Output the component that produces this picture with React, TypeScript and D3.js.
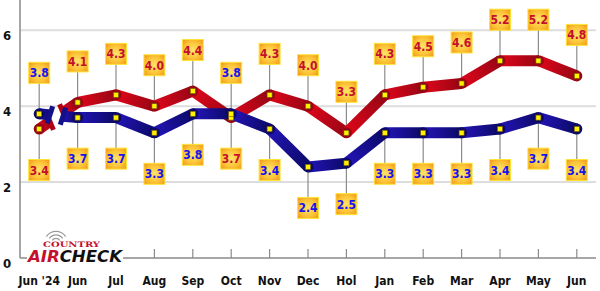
import React from 'react';
import * as d3 from 'd3';

// chart values
const months = ["Jun '24", 'Jun', 'Jul', 'Aug', 'Sep', 'Oct', 'Nov', 'Dec', 'Hol', 'Jan', 'Feb', 'Mar', 'Apr', 'May', 'Jun'];
const redValues = [3.4, 4.1, 4.3, 4.0, 4.4, 3.7, 4.3, 4.0, 3.3, 4.3, 4.5, 4.6, 5.2, 5.2, 4.8];
const blueValues = [3.8, 3.7, 3.7, 3.3, 3.8, 3.8, 3.4, 2.4, 2.5, 3.3, 3.3, 3.3, 3.4, 3.7, 3.4];
const yTicks = [0, 2, 4, 6];

const W = 600;
const H = 291;
const margin = { top: 0, right: 4, bottom: 33, left: 20 };
const FONT = "'DejaVu Sans Condensed', 'DejaVu Sans', sans-serif";

const series = [
  { key: 'red', values: redValues, light: '#e0061a', dark: '#960615', text: '#c4102c' },
  { key: 'blue', values: blueValues, light: '#2414b8', dark: '#0b0a66', text: '#1414f0' },
];

const App = () => {
  const x = d3.scalePoint<number>()
    .domain(months.map((_, i) => i))
    .range([margin.left, W - margin.right])
    .padding(0.5);

  const y = d3.scaleLinear()
    .domain([0, 6.8])
    .range([H - margin.bottom, margin.top]);

  const tube = 11;
  const labelGap = 41;
  const box = 21;

  const segs: any[] = [];
  series.forEach(s => {
    for (let i = 0; i < s.values.length - 1; i++) {
      const x1 = x(i)!, y1 = y(s.values[i]);
      const x2 = x(i + 1)!, y2 = y(s.values[i + 1]);
      if (i === 0) {
        // broken first segment
        const t1 = 0.28, t2 = 0.62;
        segs.push({ s, id: `${s.key}-${i}a`, x1, y1, x2: x1 + (x2 - x1) * t1, y2: y1 + (y2 - y1) * t1, cut: 'end' });
        segs.push({ s, id: `${s.key}-${i}b`, x1: x1 + (x2 - x1) * t2, y1: y1 + (y2 - y1) * t2, x2, y2, cut: 'start' });
      } else {
        segs.push({ s, id: `${s.key}-${i}`, x1, y1, x2, y2 });
      }
    }
  });

  const labels: any[] = [];
  months.forEach((_, i) => {
    const redUp = redValues[i] >= blueValues[i];
    series.forEach(s => {
      const v = s.values[i];
      const up = s.key === 'red' ? redUp : !redUp;
      const py = y(v);
      labels.push({ s, i, v, px: x(i)!, py, cy: up ? py - labelGap : py + labelGap });
    });
  });

  return (
    <svg width={W} height={H} style={{ position: 'absolute', left: 0, top: 0 }} fontFamily={FONT}>
      <defs>
        <radialGradient id="boxGrad" cx="50%" cy="50%" r="65%">
          <stop offset="0%" stopColor="#ffe36a" />
          <stop offset="60%" stopColor="#fcc437" />
          <stop offset="100%" stopColor="#f39a1a" />
        </radialGradient>
        {segs.map(d => (
          <linearGradient key={d.id} id={`g-${d.id}`} gradientUnits="userSpaceOnUse"
            x1={d.x1} y1={d.y1} x2={d.x2} y2={d.y2}>
            <stop offset="0%" stopColor={d.s.light} />
            <stop offset="100%" stopColor={d.s.dark} />
          </linearGradient>
        ))}
      </defs>
      <rect width={W} height={H} fill="#fff" />

      {/* gridlines */}
      {yTicks.filter(t => t > 0).map(t => (
        <line key={t} x1={margin.left} x2={W - margin.right} y1={y(t)} y2={y(t)} stroke="#dddddd" strokeWidth={2} />
      ))}
      {/* axes */}
      <line x1={margin.left} x2={margin.left} y1={0} y2={y(0)} stroke="#8a8a8a" strokeWidth={1.5} />
      <line x1={margin.left} x2={W - margin.right} y1={y(0)} y2={y(0)} stroke="#8a8a8a" strokeWidth={1.5} />
      {months.map((_, i) => (
        <line key={i} x1={x(i)} x2={x(i)} y1={y(0) - 9} y2={y(0)} stroke="#8a8a8a" strokeWidth={1.2} />
      ))}
      {yTicks.map(t => (
        <text key={t} x={7} y={y(t) + 10} textAnchor="middle" fontSize={13} fontWeight="bold" fill="#111">{t}</text>
      ))}
      {months.map((m, i) => (
        <text key={i} x={x(i)} y={285} textAnchor="middle" fontSize={12} fontWeight="bold" fill="#111">{m}</text>
      ))}

      {/* leader lines */}
      {labels.map((l, k) => (
        <line key={k} x1={l.px} x2={l.px} y1={l.py} y2={l.cy} stroke="#8c8c8c" strokeWidth={1.2} />
      ))}

      {/* tubes */}
      {series.map(s => (
        <g key={s.key}>
          {segs.filter(d => d.s === s).map(d => (
            <line key={d.id} x1={d.x1} y1={d.y1} x2={d.x2} y2={d.y2}
              stroke={`url(#g-${d.id})`} strokeWidth={tube} strokeLinecap="butt" />
          ))}
          {s.values.map((v, i) => (
            <circle key={i} cx={x(i)} cy={y(v)} r={tube / 2} fill={s.dark} />
          ))}
          {segs.filter(d => d.s === s && d.cut).map(d => {
            const cx = d.cut === 'end' ? d.x2 : d.x1;
            const cy = d.cut === 'end' ? d.y2 : d.y1;
            const ang = Math.atan2(d.y2 - d.y1, d.x2 - d.x1) * 180 / Math.PI;
            return (
              <rect key={d.id + 'cut'} x={-2.5} y={-9} width={5} height={18} fill={s.key === 'blue' ? '#14108a' : '#b00012'}
                transform={`translate(${cx},${cy}) rotate(${ang + 12})`} />
            );
          })}
        </g>
      ))}

      {/* markers */}
      {series.map(s => s.values.map((v, i) => (
        <rect key={s.key + i} x={x(i)! - 2.5} y={y(v) - 2.5} width={5} height={5} fill="#fff200" stroke="#7a5a00" strokeWidth={0.6} />
      )))}

      {/* value boxes */}
      {labels.map((l, k) => (
        <g key={k} transform={`translate(${l.px},${l.cy})`}>
          <rect x={-box / 2} y={-box / 2} width={box} height={box} fill="url(#boxGrad)" stroke="#ffe438" strokeWidth={1} />
          <text x={0} y={4.5} textAnchor="middle" fontSize={12} fontWeight="bold" fill={l.s.text}>{l.v.toFixed(1)}</text>
        </g>
      ))}

      {/* logo */}
      <g>
        <rect x={27} y={249} width={96} height={14} fill="#fff" />
        {[4, 7.5, 11].map(r => (
          <path key={r} d={d3.arc()({ innerRadius: r, outerRadius: r + 1.2, startAngle: -Math.PI / 3.2, endAngle: Math.PI / 3.2 }) || ''}
            transform="translate(56,243)" fill="#9a9a9a" />
        ))}
        <text x={43} y={247} fontSize={7.5} fontWeight="bold" fill="#c4102c" textLength={57} lengthAdjust="spacingAndGlyphs"
          fontFamily="'DejaVu Serif', serif">COUNTRY</text>
        <text x={28} y={262} fontSize={15.5} fontWeight="bold" textLength={94} lengthAdjust="spacingAndGlyphs"
          fontFamily="'DejaVu Sans', sans-serif" fontStyle="italic">
          <tspan fill="#c4102c">AIR</tspan><tspan fill="#111">CHECK</tspan>
        </text>
      </g>
    </svg>
  );
};

export default App;
